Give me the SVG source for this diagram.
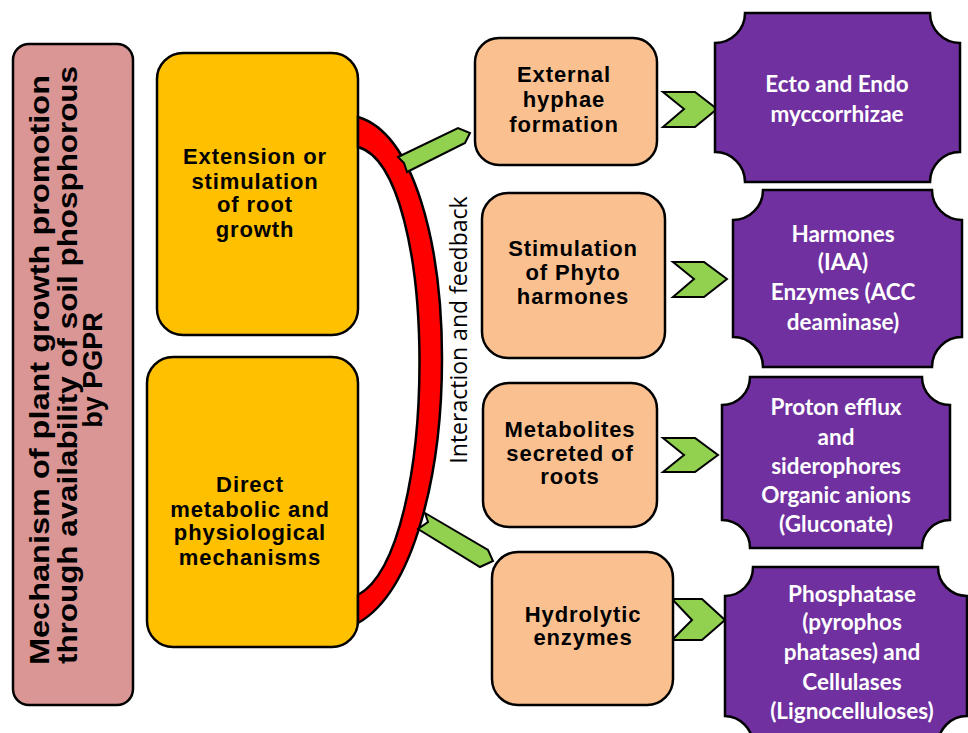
<svg xmlns="http://www.w3.org/2000/svg" width="968" height="733" viewBox="0 0 968 733">
<style>
.box{stroke:#000;stroke-width:2.5}
.title{fill:#D99694}
.yel{fill:#FFC000}
.org{fill:#FAC090}
.pur{fill:#7030A0}
.grn{fill:#92D050;stroke:#000;stroke-width:2;stroke-linejoin:miter}
.red{fill:#FF0000;stroke:#000;stroke-width:2.5}
.tt{font-family:"Liberation Sans",Arial,sans-serif;font-weight:bold;font-size:27px;fill:#000;text-anchor:middle}
.bt{font-family:"Liberation Sans",Arial,sans-serif;font-weight:bold;font-size:22px;letter-spacing:0.9px;fill:#000;text-anchor:middle}
.wt{font-family:Lato,"Open Sans",sans-serif;font-weight:bold;font-size:22.5px;fill:#fff;text-anchor:middle}
.it{font-family:"Open Sans",Lato,sans-serif;font-size:23px;fill:#000;text-anchor:middle}
</style>
<rect width="968" height="733" fill="#fff"/>

<g id="title">
<rect class="box title" x="13" y="44" width="120" height="661" rx="16"/>
<text class="tt" transform="translate(49,370) rotate(-90)" textLength="590" lengthAdjust="spacingAndGlyphs">Mechanism of plant growth promotion</text>
<text class="tt" transform="translate(77,365) rotate(-90)" textLength="598" lengthAdjust="spacingAndGlyphs">through availability of soil phosphorous</text>
<text class="tt" transform="translate(102,370) rotate(-90)">by PGPR</text>
</g>

<g id="yellow1">
<rect class="box yel" x="157" y="53" width="201" height="282" rx="26"/>
<text class="bt" x="255" y="164">Extension or</text>
<text class="bt" x="255" y="189">stimulation</text>
<text class="bt" x="255" y="212">of root</text>
<text class="bt" x="255" y="237">growth</text>
</g>

<g id="yellow2">
<rect class="box yel" x="147" y="357" width="211" height="290" rx="26"/>
<text class="bt" x="250" y="492">Direct</text>
<text class="bt" x="250" y="517">metabolic and</text>
<text class="bt" x="250" y="540">physiological</text>
<text class="bt" x="250" y="565">mechanisms</text>
</g>

<g id="connectors">
<path class="red" d="M358,117 C470,150 470,560 358,623 L358,595 C440,550 440,170 358,147 Z"/>
<text class="it" transform="translate(467,330) rotate(-90)">Interaction and feedback</text>
<polygon class="grn" points="398,157 458,128 470,133 465,143 407,172 404,163"/>
<polygon class="grn" points="425,513 488,550 493,561 480,567 418,529 428,522"/>
<polygon class="grn" points="663,92 695,92 717,109 695,127 663,127 684,109"/>
<polygon class="grn" points="673,262 704,262 727,279 704,297 673,297 694,279"/>
<polygon class="grn" points="663,438 695,438 718,455 695,472 663,472 684,455"/>
<polygon class="grn" points="672,599 702,599 725,620 702,640 672,640 692,620"/>
</g>

<g id="orange1">
<rect class="box org" x="475" y="38" width="182" height="127" rx="24"/>
<text class="bt" x="564" y="82">External</text>
<text class="bt" x="564" y="107">hyphae</text>
<text class="bt" x="564" y="132">formation</text>
</g>
<g id="orange2">
<rect class="box org" x="482" y="193" width="183" height="165" rx="26"/>
<text class="bt" x="573" y="256">Stimulation</text>
<text class="bt" x="573" y="280">of Phyto</text>
<text class="bt" x="573" y="304">harmones</text>
</g>
<g id="orange3">
<rect class="box org" x="483" y="383" width="174" height="144" rx="26"/>
<text class="bt" x="570" y="437">Metabolites</text>
<text class="bt" x="570" y="461">secreted of</text>
<text class="bt" x="570" y="484">roots</text>
</g>
<g id="orange4">
<rect class="box org" x="492" y="552" width="181" height="153" rx="26"/>
<text class="bt" x="583" y="622">Hydrolytic</text>
<text class="bt" x="583" y="645">enzymes</text>
</g>

<g id="purple1">
<path class="box pur" d="M745,13 H930 A30,30 0 0 0 960,43 V152 A30,30 0 0 0 930,182 H745 A30,30 0 0 0 715,152 V43 A30,30 0 0 0 745,13 Z"/>
<text class="wt" x="837" y="92">Ecto and Endo</text>
<text class="wt" x="837" y="122">myccorrhizae</text>
</g>
<g id="purple2">
<path class="box pur" d="M763,190 H932 A30,30 0 0 0 962,220 V337 A30,30 0 0 0 932,367 H763 A30,30 0 0 0 733,337 V220 A30,30 0 0 0 763,190 Z"/>
<text class="wt" x="843" y="242">Harmones</text>
<text class="wt" x="843" y="270">(IAA)</text>
<text class="wt" x="843" y="300">Enzymes (ACC</text>
<text class="wt" x="843" y="330">deaminase)</text>
</g>
<g id="purple3">
<path class="box pur" d="M750,377 H922 A28,28 0 0 0 950,405 V520 A28,28 0 0 0 922,548 H750 A28,28 0 0 0 722,520 V405 A28,28 0 0 0 750,377 Z"/>
<text class="wt" x="836" y="415">Proton efflux</text>
<text class="wt" x="836" y="445">and</text>
<text class="wt" x="836" y="474">siderophores</text>
<text class="wt" x="836" y="503">Organic  anions</text>
<text class="wt" x="836" y="532">(Gluconate)</text>
</g>
<g id="purple4">
<path class="box pur" d="M753,567 H938 A29,29 0 0 0 967,596 V716 A29,29 0 0 0 938,745 H753 A29,29 0 0 0 725,716 V596 A28,29 0 0 0 753,567 Z"/>
<text class="wt" x="852" y="602">Phosphatase</text>
<text class="wt" x="852" y="630">(pyrophos</text>
<text class="wt" x="852" y="660">phatases) and</text>
<text class="wt" x="852" y="690">Cellulases</text>
<text class="wt" x="852" y="719">(Lignocelluloses)</text>
</g>
</svg>
